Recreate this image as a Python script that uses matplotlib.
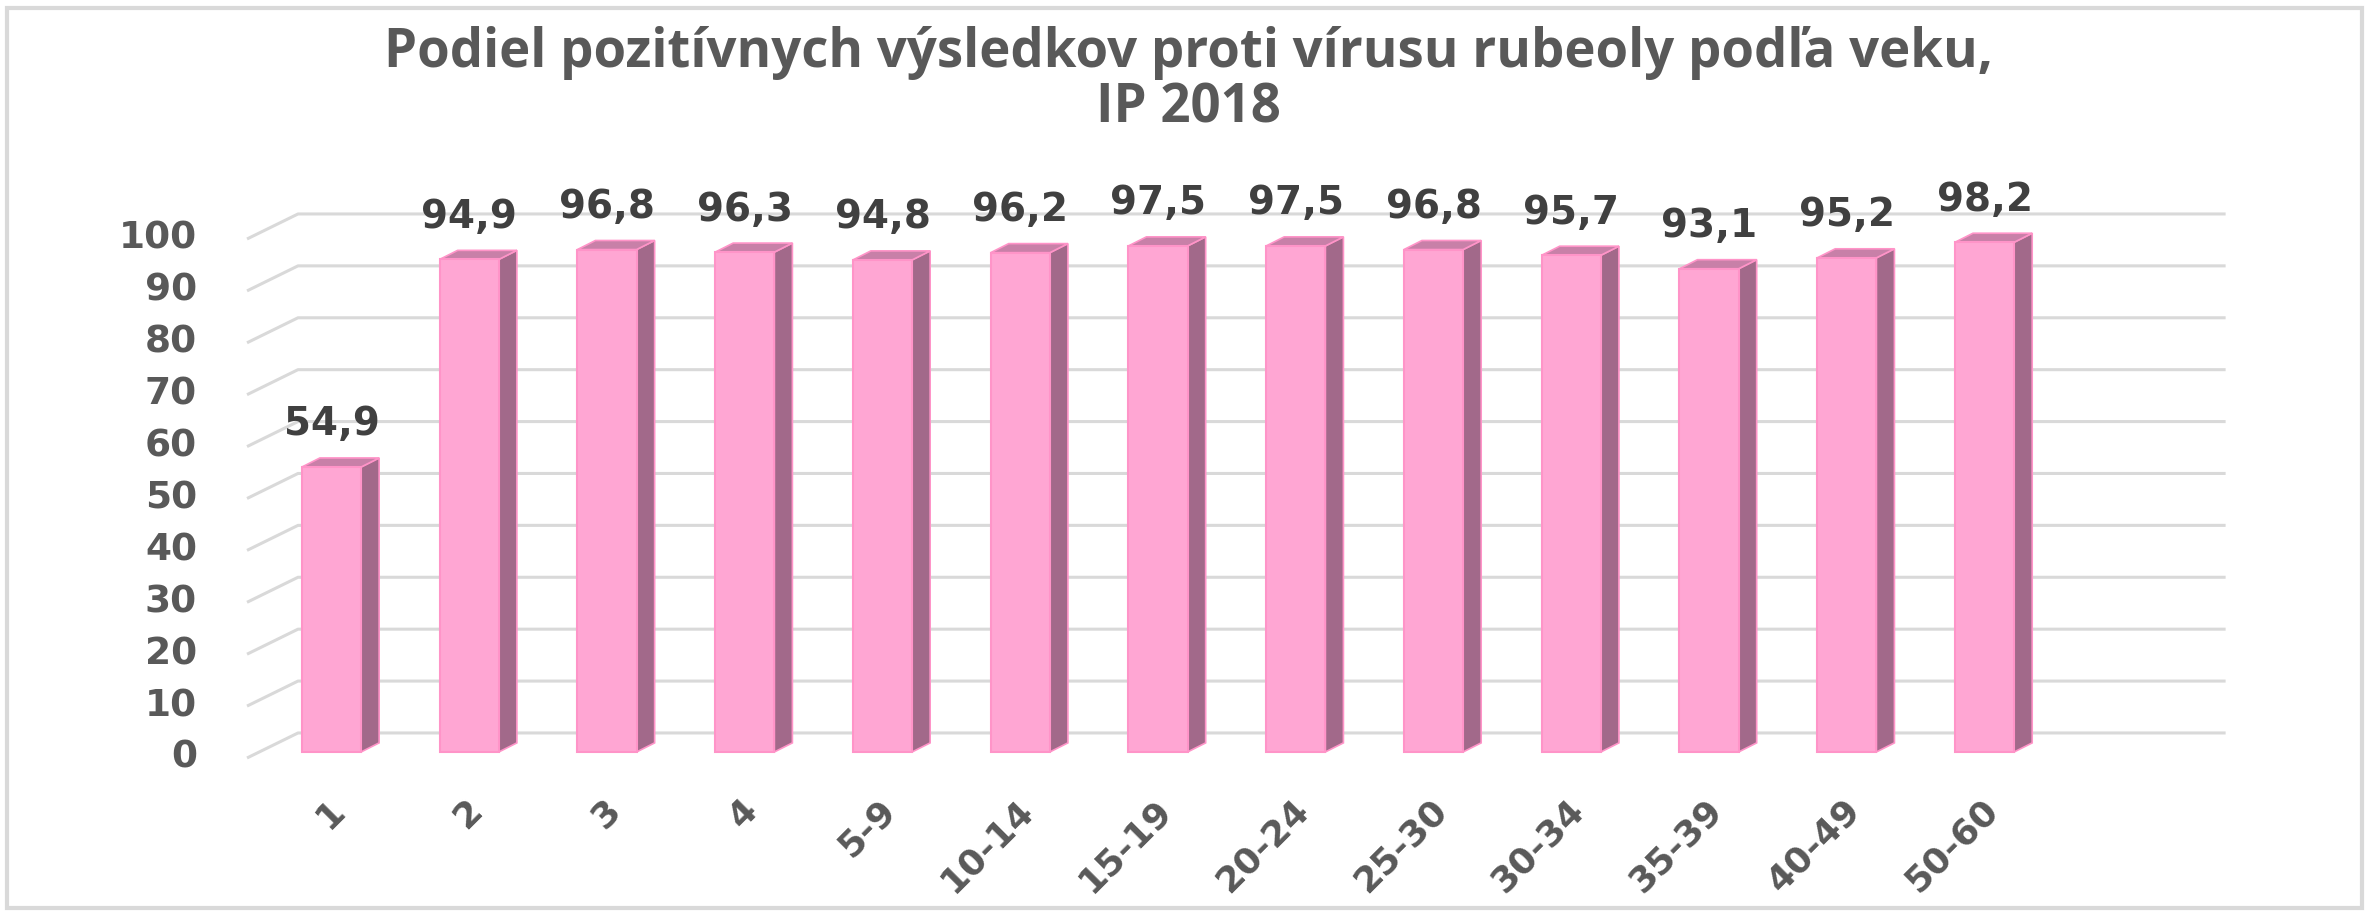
import matplotlib.pyplot as plt
from matplotlib.patches import Polygon, Rectangle

categories = ['1', '2', '3', '4', '5-9', '10-14', '15-19', '20-24',
              '25-30', '30-34', '35-39', '40-49', '50-60']
values = [54.9, 94.9, 96.8, 96.3, 94.8, 96.2, 97.5, 97.5, 96.8, 95.7, 93.1, 95.2, 98.2]
labels = ['54,9', '94,9', '96,8', '96,3', '94,8', '96,2', '97,5', '97,5',
          '96,8', '95,7', '93,1', '95,2', '98,2']
yticks = [0, 10, 20, 30, 40, 50, 60, 70, 80, 90, 100]

title = 'Podiel pozitívnych výsledkov proti vírusu rubeoly podľa veku,\nIP 2018'

front = '#FFA6D3'
edge = '#FF94C8'
side = '#A2698A'
top = '#C880A8'
grid = '#D9D9D9'
txt = '#595959'

fig = plt.figure(figsize=(23.74, 9.14), dpi=100)
ax = fig.add_axes([0.0816, 0.1205, 0.8704, 0.6814])
ax.set_xlim(-1, 14)
ax.set_ylim(-10, 110)
ax.axis('off')

# fake 3d geometry (data units)
hw = 0.215          # half bar width
ddx, ddy = 0.131, 1.75   # bar depth
fx, fy = -0.613, -1.16   # front end of floor lines
bx, by = -0.243, 3.66    # back wall
right = 13.75

for v in yticks:
    ax.plot([fx, bx, right], [v + fy, v + by, v + by], color=grid, lw=2.2,
            solid_capstyle='butt', zorder=1)
    ax.text(-0.976, v + fy, str(v), ha='right', va='center', fontsize=27,
            fontweight='bold', color=txt, clip_on=False)

for i, v in enumerate(values):
    ax.bar(i, v, width=2 * hw, color=front, edgecolor=edge, lw=1.5, zorder=3)
    ax.add_patch(Polygon([(i + hw, 0), (i + hw + ddx, ddy), (i + hw + ddx, v + ddy), (i + hw, v)],
                         closed=True, facecolor=side, edgecolor=edge, lw=1.2, zorder=2))
    ax.add_patch(Polygon([(i - hw, v), (i + hw, v), (i + hw + ddx, v + ddy), (i - hw + ddx, v + ddy)],
                         closed=True, facecolor=top, edgecolor=edge, lw=1.2, zorder=2))
    ax.text(i, v + 6.1, labels[i], ha='center', va='baseline', fontsize=28,
            fontweight='bold', color='#404040')
    ax.text(i - 0.03, -7.9, categories[i], ha='right', va='top', rotation=45,
            rotation_mode='anchor', fontsize=26, fontweight='bold', color=txt)

fig.text(0.5005, 0.972, title, ha='center', va='top', fontsize=38, fontweight='bold',
         family='Open Sans', color=txt, linespacing=1.04)

fig.patches.append(Rectangle((0.003, 0.007), 0.992, 0.984, transform=fig.transFigure,
                             fill=False, edgecolor=grid, lw=3))

fig.savefig('out.png', dpi=100)
